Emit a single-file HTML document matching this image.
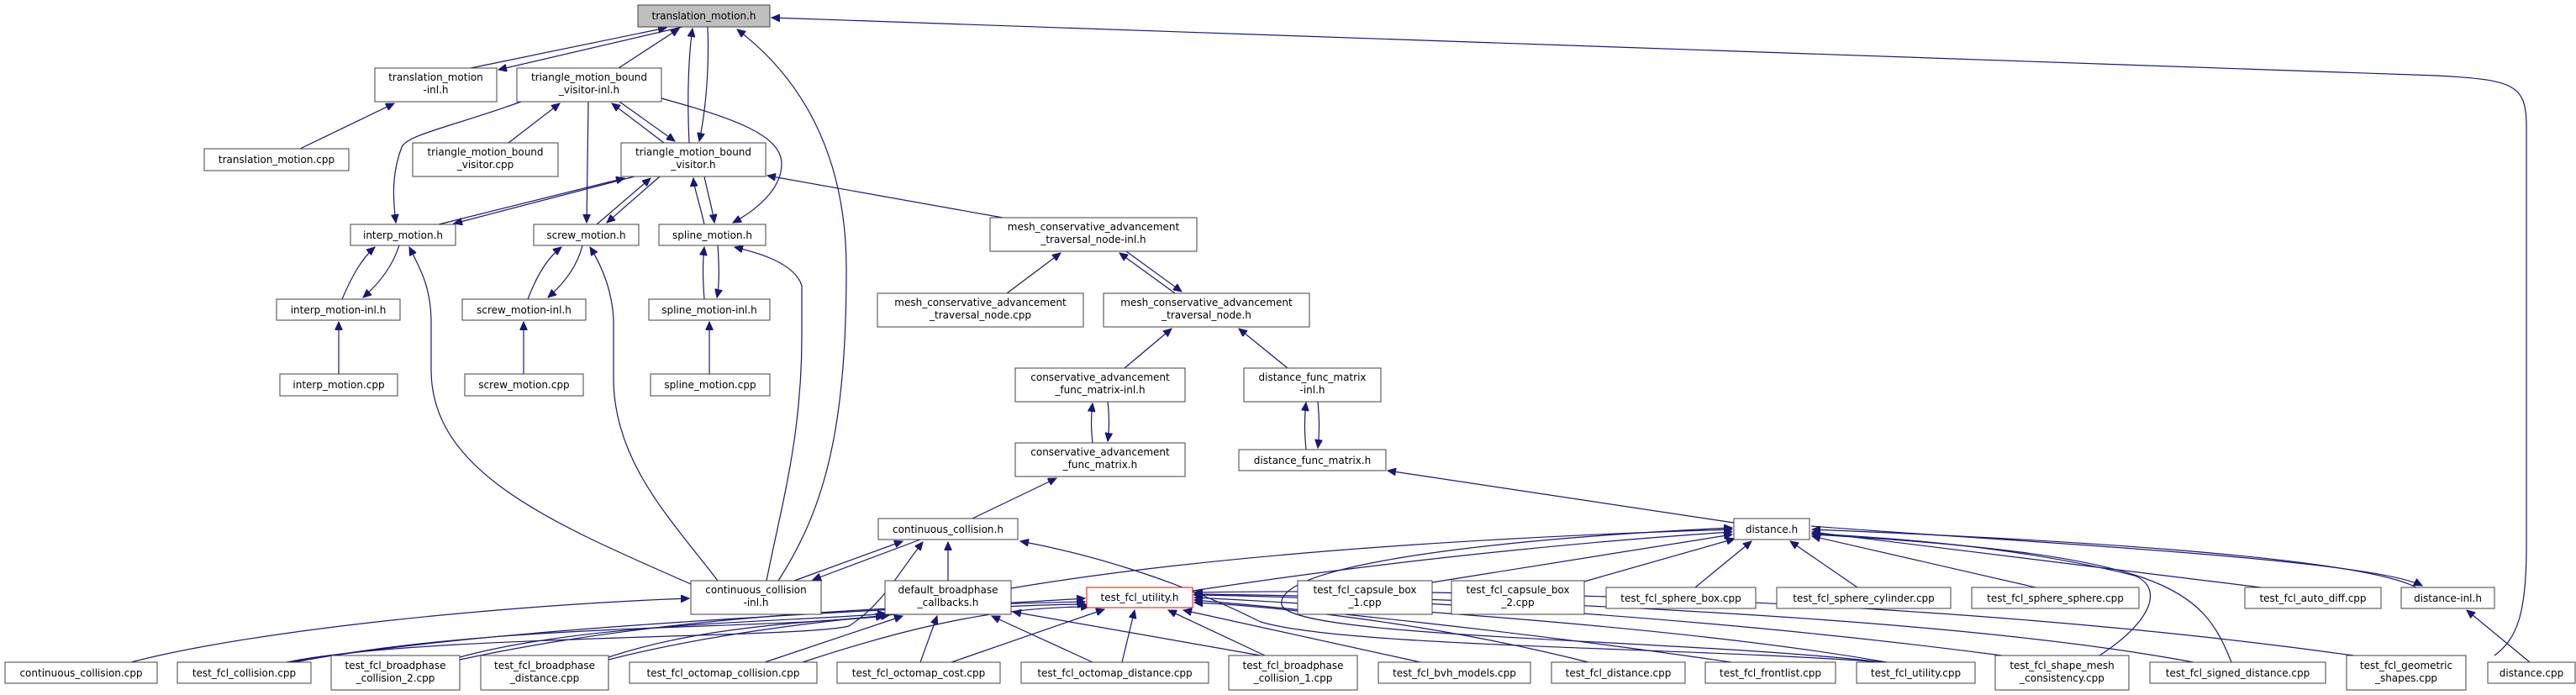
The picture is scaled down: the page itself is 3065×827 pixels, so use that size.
<!DOCTYPE html>
<html><head><meta charset="utf-8"><style>
html,body{margin:0;padding:0;background:#fff;}
svg{display:block;}
text{font-family:"DejaVu Sans","Liberation Sans",sans-serif;font-size:12px;fill:#000;}
.e{fill:none;stroke:#191970;stroke-width:1.2;marker-end:url(#a);}
.n{fill:#fff;stroke:#404040;stroke-width:1;}
</style></head><body>
<svg width="3065" height="827" viewBox="0 0 3065 827" xmlns="http://www.w3.org/2000/svg">
<defs><marker id="a" markerWidth="11" markerHeight="9" refX="10" refY="4.5" orient="auto" markerUnits="userSpaceOnUse"><path d="M0,0 L10,4.5 L0,9z" fill="#191970" stroke="#191970"/></marker></defs>
<g>
<!-- edges -->
<path class="e" d="M560,81 L793,33"/>
<path class="e" d="M812,32 L593,83"/>
<path class="e" d="M736,81 L808,34"/>
<path class="e" d="M820,170 C817,110 820,60 824,34"/>
<path class="e" d="M842,32 C844,80 840,130 832,168"/>
<path class="e" d="M926,691 C985,600 1007,500 1007,320 C1007,180 950,90 877,35"/>
<path class="e" d="M2968,780 C2995,760 3006,730 3006,650 L3006,150 C3006,100 2990,95 2900,90 L918,21"/>
<path class="e" d="M357,177 L469,123"/>
<path class="e" d="M605,170 L666,123"/>
<path class="e" d="M737,121 L803,168"/>
<path class="e" d="M790,170 L728,123"/>
<path class="e" d="M620,121 C540,150 485,160 478,175 C465,210 468,240 471,265"/>
<path class="e" d="M700,121 L698,265"/>
<path class="e" d="M787,117 C870,140 930,160 930,195 C930,225 900,250 872,265"/>
<path class="e" d="M755,210 L540,266"/>
<path class="e" d="M522,267 L743,212"/>
<path class="e" d="M710,267 L774,212"/>
<path class="e" d="M785,210 L722,265"/>
<path class="e" d="M838,267 C832,240 826,225 825,212"/>
<path class="e" d="M838,210 C842,230 848,250 850,265"/>
<path class="e" d="M1193,259 L913,209"/>
<path class="e" d="M407,356 C418,330 430,308 446,294"/>
<path class="e" d="M475,292 C466,320 448,340 432,354"/>
<path class="e" d="M628,356 C638,330 650,308 668,294"/>
<path class="e" d="M693,292 C686,320 668,340 652,354"/>
<path class="e" d="M838,356 C836,330 836,310 838,294"/>
<path class="e" d="M854,292 C856,320 856,340 853,354"/>
<path class="e" d="M403,445 L403,383"/>
<path class="e" d="M623,445 L623,383"/>
<path class="e" d="M844,445 L844,383"/>
<path class="e" d="M822,695 C650,620 513,560 513,440 L513,380 C512,340 500,320 487,294"/>
<path class="e" d="M854,691 C800,620 730,550 730,450 L730,380 C728,340 712,310 702,294"/>
<path class="e" d="M912,691 C930,600 954,520 954,400 L954,340 C945,310 890,298 874,294"/>
<path class="e" d="M1198,349 L1262,301"/>
<path class="e" d="M1398,349 L1332,301"/>
<path class="e" d="M1340,299 L1406,347"/>
<path class="e" d="M1338,438 L1394,391"/>
<path class="e" d="M1532,438 L1474,391"/>
<path class="e" d="M1300,527 C1298,510 1298,495 1300,480"/>
<path class="e" d="M1318,478 C1320,495 1320,510 1318,525"/>
<path class="e" d="M1554,535 C1552,515 1552,495 1554,479"/>
<path class="e" d="M1568,478 C1570,500 1570,515 1568,533"/>
<path class="e" d="M1157,617 L1257,569"/>
<path class="e" d="M2063,622 L1651,560"/>
<path class="e" d="M945,691 L1074,644"/>
<path class="e" d="M1095,642 L967,690"/>
<path class="e" d="M1128,691 L1128,645"/>
<path class="e" d="M156,788 C300,750 600,720 820,712"/>
<path class="e" d="M341,788 C500,755 950,760 1010,745 C1050,720 1070,680 1098,645"/>
<path class="e" d="M2240,788 C2000,770 1600,770 1500,740 C1400,690 1300,660 1214,644"/>
<path class="e" d="M1203,700 C1500,650 1900,635 2061,630"/>
<path class="e" d="M1419,703 C1700,660 1950,640 2061,633"/>
<path class="e" d="M1704,693 L2061,636"/>
<path class="e" d="M1885,692 L2064,641"/>
<path class="e" d="M2017,699 L2084,644"/>
<path class="e" d="M2210,699 L2130,644"/>
<path class="e" d="M2422,699 L2156,638"/>
<path class="e" d="M2690,699 L2156,633"/>
<path class="e" d="M2875,699 C2800,660 2400,640 2156,630"/>
<path class="e" d="M2155,626 C2400,645 2820,665 2882,697"/>
<path class="e" d="M2498,780 C2560,740 2575,700 2540,685 C2400,650 2250,640 2156,635"/>
<path class="e" d="M2655,788 C2620,700 2580,660 2156,636"/>
<path class="e" d="M2240,788 C2000,760 1540,760 1525,720 C1515,670 1800,640 2061,628"/>
<path class="e" d="M3010,788 L2935,726"/>
<path class="e" d="M350,788 C600,740 900,750 1052,733"/>
<path class="e" d="M547,782 C700,740 950,740 1054,730"/>
<path class="e" d="M724,782 C850,740 1000,740 1058,732"/>
<path class="e" d="M910,788 L1074,733"/>
<path class="e" d="M1095,788 L1115,733"/>
<path class="e" d="M1300,788 L1180,733"/>
<path class="e" d="M1500,780 L1205,728"/>
<path class="e" d="M345,788 C600,745 1000,730 1291,712"/>
<path class="e" d="M547,785 C800,730 1100,720 1291,716"/>
<path class="e" d="M724,785 C900,740 1150,720 1292,719"/>
<path class="e" d="M955,788 C1100,740 1200,722 1296,722"/>
<path class="e" d="M1132,788 L1314,725"/>
<path class="e" d="M1335,788 L1350,726"/>
<path class="e" d="M1505,780 L1390,726"/>
<path class="e" d="M1690,788 L1408,726"/>
<path class="e" d="M1890,788 C1700,740 1500,720 1421,717"/>
<path class="e" d="M2060,788 C1800,750 1550,725 1421,714"/>
<path class="e" d="M2245,788 C2000,745 1600,720 1421,711"/>
<path class="e" d="M2382,780 C2000,730 1600,710 1421,708"/>
<path class="e" d="M2610,788 C2300,730 1700,710 1421,707"/>
<path class="e" d="M2800,780 C2300,710 1700,700 1421,705"/>
</g>
<g>
<!-- nodes -->
<rect x="759" y="6" width="157" height="26" fill="#bfbfbf" stroke="#404040"/><text x="837.5" y="23" text-anchor="middle">translation_motion.h</text>
<rect class="n" x="446" y="81" width="145" height="40"/><text x="518.5" y="96" text-anchor="middle">translation_motion</text><text x="518.5" y="111" text-anchor="middle">-inl.h</text>
<rect class="n" x="615" y="81" width="172" height="40"/><text x="701" y="96" text-anchor="middle">triangle_motion_bound</text><text x="701" y="111" text-anchor="middle">_visitor-inl.h</text>
<rect class="n" x="243" y="177" width="172" height="26"/><text x="329" y="194" text-anchor="middle">translation_motion.cpp</text>
<rect class="n" x="491" y="170" width="173" height="40"/><text x="577.5" y="185" text-anchor="middle">triangle_motion_bound</text><text x="577.5" y="200" text-anchor="middle">_visitor.cpp</text>
<rect class="n" x="739" y="170" width="172" height="40"/><text x="825" y="185" text-anchor="middle">triangle_motion_bound</text><text x="825" y="200" text-anchor="middle">_visitor.h</text>
<rect class="n" x="417" y="267" width="125" height="25"/><text x="479.5" y="284" text-anchor="middle">interp_motion.h</text>
<rect class="n" x="635" y="267" width="125" height="25"/><text x="697.5" y="284" text-anchor="middle">screw_motion.h</text>
<rect class="n" x="784" y="267" width="127" height="25"/><text x="847.5" y="284" text-anchor="middle">spline_motion.h</text>
<rect class="n" x="329" y="356" width="147" height="25"/><text x="402.5" y="373" text-anchor="middle">interp_motion-inl.h</text>
<rect class="n" x="550" y="356" width="147" height="25"/><text x="623.5" y="373" text-anchor="middle">screw_motion-inl.h</text>
<rect class="n" x="772" y="356" width="144" height="25"/><text x="844" y="373" text-anchor="middle">spline_motion-inl.h</text>
<rect class="n" x="333" y="445" width="140" height="26"/><text x="403" y="462" text-anchor="middle">interp_motion.cpp</text>
<rect class="n" x="553" y="445" width="141" height="26"/><text x="623.5" y="462" text-anchor="middle">screw_motion.cpp</text>
<rect class="n" x="774" y="445" width="142" height="26"/><text x="845" y="462" text-anchor="middle">spline_motion.cpp</text>
<rect class="n" x="1178" y="259" width="246" height="40"/><text x="1301" y="274" text-anchor="middle">mesh_conservative_advancement</text><text x="1301" y="289" text-anchor="middle">_traversal_node-inl.h</text>
<rect class="n" x="1044" y="349" width="245" height="40"/><text x="1166.5" y="364" text-anchor="middle">mesh_conservative_advancement</text><text x="1166.5" y="379" text-anchor="middle">_traversal_node.cpp</text>
<rect class="n" x="1313" y="349" width="245" height="40"/><text x="1435.5" y="364" text-anchor="middle">mesh_conservative_advancement</text><text x="1435.5" y="379" text-anchor="middle">_traversal_node.h</text>
<rect class="n" x="1208" y="438" width="202" height="40"/><text x="1309" y="453" text-anchor="middle">conservative_advancement</text><text x="1309" y="468" text-anchor="middle">_func_matrix-inl.h</text>
<rect class="n" x="1480" y="438" width="163" height="40"/><text x="1561.5" y="453" text-anchor="middle">distance_func_matrix</text><text x="1561.5" y="468" text-anchor="middle">-inl.h</text>
<rect class="n" x="1208" y="527" width="202" height="40"/><text x="1309" y="542" text-anchor="middle">conservative_advancement</text><text x="1309" y="557" text-anchor="middle">_func_matrix.h</text>
<rect class="n" x="1474" y="535" width="175" height="25"/><text x="1561.5" y="552" text-anchor="middle">distance_func_matrix.h</text>
<rect class="n" x="1045" y="617" width="166" height="25"/><text x="1128" y="634" text-anchor="middle">continuous_collision.h</text>
<rect class="n" x="822" y="691" width="155" height="40"/><text x="899.5" y="706" text-anchor="middle">continuous_collision</text><text x="899.5" y="721" text-anchor="middle">-inl.h</text>
<rect class="n" x="1053" y="691" width="150" height="40"/><text x="1128" y="706" text-anchor="middle">default_broadphase</text><text x="1128" y="721" text-anchor="middle">_callbacks.h</text>
<rect x="1293" y="699" width="126" height="24" fill="#fff" stroke="#ff0000"/><text x="1356" y="715" text-anchor="middle">test_fcl_utility.h</text>
<rect class="n" x="1544" y="691" width="160" height="40"/><text x="1624" y="706" text-anchor="middle">test_fcl_capsule_box</text><text x="1624" y="721" text-anchor="middle">_1.cpp</text>
<rect class="n" x="1727" y="691" width="158" height="40"/><text x="1806" y="706" text-anchor="middle">test_fcl_capsule_box</text><text x="1806" y="721" text-anchor="middle">_2.cpp</text>
<rect class="n" x="1911" y="699" width="178" height="25"/><text x="2000" y="716" text-anchor="middle">test_fcl_sphere_box.cpp</text>
<rect class="n" x="2063" y="617" width="90" height="25"/><text x="2108" y="634" text-anchor="middle">distance.h</text>
<rect class="n" x="2114" y="699" width="207" height="25"/><text x="2217.5" y="716" text-anchor="middle">test_fcl_sphere_cylinder.cpp</text>
<rect class="n" x="2346" y="699" width="199" height="25"/><text x="2445.5" y="716" text-anchor="middle">test_fcl_sphere_sphere.cpp</text>
<rect class="n" x="2671" y="699" width="162" height="25"/><text x="2752" y="716" text-anchor="middle">test_fcl_auto_diff.cpp</text>
<rect class="n" x="2857" y="699" width="111" height="25"/><text x="2912.5" y="716" text-anchor="middle">distance-inl.h</text>
<rect class="n" x="6" y="788" width="181" height="25"/><text x="96.5" y="805" text-anchor="middle">continuous_collision.cpp</text>
<rect class="n" x="211" y="788" width="159" height="25"/><text x="290.5" y="805" text-anchor="middle">test_fcl_collision.cpp</text>
<rect class="n" x="394" y="780" width="153" height="41"/><text x="470.5" y="796" text-anchor="middle">test_fcl_broadphase</text><text x="470.5" y="811" text-anchor="middle">_collision_2.cpp</text>
<rect class="n" x="572" y="780" width="152" height="41"/><text x="648" y="796" text-anchor="middle">test_fcl_broadphase</text><text x="648" y="811" text-anchor="middle">_distance.cpp</text>
<rect class="n" x="749" y="788" width="223" height="25"/><text x="860.5" y="805" text-anchor="middle">test_fcl_octomap_collision.cpp</text>
<rect class="n" x="996" y="788" width="194" height="25"/><text x="1093" y="805" text-anchor="middle">test_fcl_octomap_cost.cpp</text>
<rect class="n" x="1215" y="788" width="223" height="25"/><text x="1326.5" y="805" text-anchor="middle">test_fcl_octomap_distance.cpp</text>
<rect class="n" x="1462" y="780" width="153" height="41"/><text x="1538.5" y="796" text-anchor="middle">test_fcl_broadphase</text><text x="1538.5" y="811" text-anchor="middle">_collision_1.cpp</text>
<rect class="n" x="1640" y="788" width="181" height="25"/><text x="1730.5" y="805" text-anchor="middle">test_fcl_bvh_models.cpp</text>
<rect class="n" x="1846" y="788" width="159" height="25"/><text x="1925.5" y="805" text-anchor="middle">test_fcl_distance.cpp</text>
<rect class="n" x="2029" y="788" width="155" height="25"/><text x="2106.5" y="805" text-anchor="middle">test_fcl_frontlist.cpp</text>
<rect class="n" x="2209" y="788" width="141" height="25"/><text x="2279.5" y="805" text-anchor="middle">test_fcl_utility.cpp</text>
<rect class="n" x="2374" y="780" width="159" height="41"/><text x="2453.5" y="796" text-anchor="middle">test_fcl_shape_mesh</text><text x="2453.5" y="811" text-anchor="middle">_consistency.cpp</text>
<rect class="n" x="2558" y="788" width="209" height="25"/><text x="2662.5" y="805" text-anchor="middle">test_fcl_signed_distance.cpp</text>
<rect class="n" x="2792" y="780" width="142" height="41"/><text x="2863" y="796" text-anchor="middle">test_fcl_geometric</text><text x="2863" y="811" text-anchor="middle">_shapes.cpp</text>
<rect class="n" x="2960" y="788" width="104" height="25"/><text x="3012" y="805" text-anchor="middle">distance.cpp</text>
</g>
</svg>
</body></html>
